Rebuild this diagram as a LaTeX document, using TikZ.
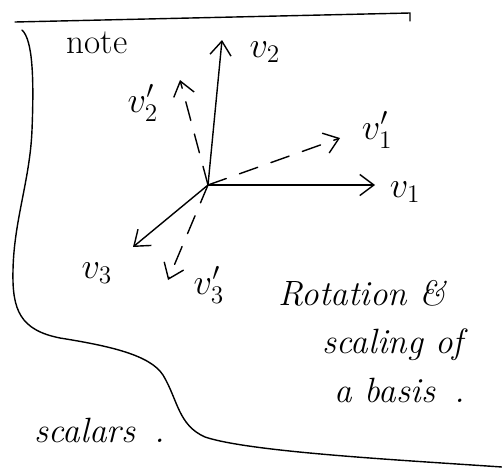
\documentclass[tikz,border=0pt]{standalone}
\usepackage{tikz}
\usetikzlibrary{arrows.meta, positioning}

\begin{document}
\begin{tikzpicture}[
  x=0.02cm, y=-0.02cm,
  vec/.style={-{Straight Barb[length=8pt, width=12pt]}, thick, line cap=round},
  vecd/.style={vec, dash pattern=on 11pt off 8pt},
  lbl/.style={font=\huge, inner sep=1pt},
  txt/.style={font=\fontsize{20}{24}\selectfont\itshape, inner sep=1pt},
  edge/.style={thick, line cap=round}
]
\useasboundingbox (0,0) rectangle (502,470);

% frame of the page
\draw[edge] (15,22) -- (410,13) -- (410,21);
\draw[edge] (22,30) .. controls (33,40) and (34,80) .. (32,130)
  .. controls (30,180) and (14,220) .. (13,270)
  .. controls (12,310) and (20,330) .. (60,338)
  .. controls (110,346) and (150,355) .. (163,375)
  .. controls (178,400) and (178,425) .. (205,437)
  .. controls (250,452) and (400,460) .. (502,467);

\node[txt, font=\fontsize{20}{24}\selectfont] (note) at (97,43) {note};

% basis
\coordinate (O) at (208,185);
\coordinate (v1tip) at (375,185);
\coordinate (v2tip) at (222,40);
\coordinate (v3tip) at (133,247);
\coordinate (v1ptip) at (340,138);
\coordinate (v2ptip) at (180,80);
\coordinate (v3ptip) at (168,280);

\draw[vec] (O) -- (v1tip);
\draw[vec] (O) -- (v2tip);
\draw[vec] (O) -- (v3tip);
\draw[vecd] (O) -- (v1ptip);
\draw[vecd] (O) -- (v2ptip);
\draw[vecd] (O) -- (v3ptip);

\node[lbl] (v1) at (405,192) {$v_1$};
\node[lbl] (v2) at (265,52) {$v_2$};
\node[lbl] (v3) at (97,273) {$v_3$};
\node[lbl] (v1p) at (377,130) {$v_1'$};
\node[lbl] (v2p) at (143,103) {$v_2'$};
\node[lbl] (v3p) at (209,285) {$v_3'$};

% notes
\node[txt] (rot) at (362,293) {Rotation \&};
\node[txt] (scl) at (393,345) {scaling of};
\node[txt] (bas) at (400,390) {a basis\;\;.};
\node[txt] (scal) at (100,430) {scalars\;\;.};
\end{tikzpicture}
\end{document}
